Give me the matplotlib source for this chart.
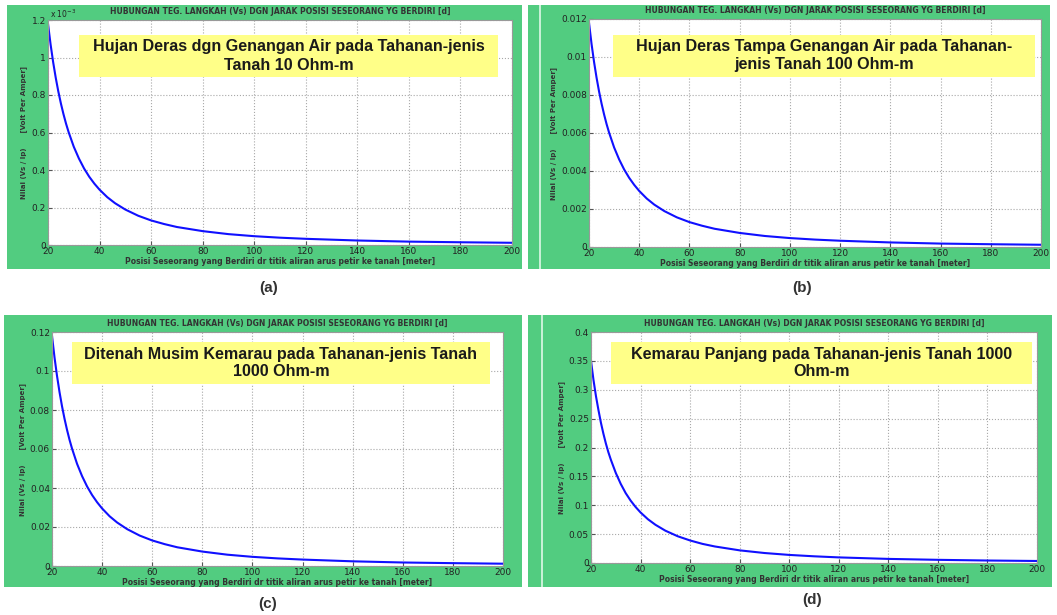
import numpy as np
import matplotlib.pyplot as plt
from matplotlib.patches import Rectangle
from matplotlib.ticker import FuncFormatter

# jarak posisi (meter)
jarak = [20, 21, 22, 23, 24, 25, 26, 27, 28, 30, 32, 34, 36, 38, 40, 43, 46,
         50, 55, 60, 65, 70, 80, 90, 100, 110, 120, 140, 160, 180, 200]

# nilai Vs/Ip (Volt per Amper)
vs_a = [1.18e-3, 1.07e-3, 0.975e-3, 0.892e-3, 0.819e-3, 0.755e-3, 0.698e-3,
        0.647e-3, 0.602e-3, 0.524e-3, 0.461e-3, 0.408e-3, 0.364e-3, 0.327e-3,
        0.295e-3, 0.255e-3, 0.223e-3, 0.189e-3, 0.156e-3, 0.131e-3, 0.112e-3,
        0.096e-3, 0.074e-3, 0.058e-3, 0.047e-3, 0.039e-3, 0.033e-3, 0.024e-3,
        0.018e-3, 0.0146e-3, 0.0118e-3]
vs_b = [0.0118, 0.0107, 0.00975, 0.00892, 0.00819, 0.00755, 0.00698,
        0.00647, 0.00602, 0.00524, 0.00461, 0.00408, 0.00364, 0.00327,
        0.00295, 0.00255, 0.00223, 0.00189, 0.00156, 0.00131, 0.00112,
        0.00096, 0.00074, 0.00058, 0.00047, 0.00039, 0.00033, 0.00024,
        0.00018, 0.000146, 0.000118]
vs_c = [0.118, 0.107, 0.0975, 0.0892, 0.0819, 0.0755, 0.0698, 0.0647,
        0.0602, 0.0524, 0.0461, 0.0408, 0.0364, 0.0327, 0.0295, 0.0255,
        0.0223, 0.0189, 0.0156, 0.0131, 0.0112, 0.0096, 0.0074, 0.0058,
        0.0047, 0.0039, 0.0033, 0.0024, 0.0018, 0.00146, 0.00118]
vs_d = [0.35, 0.317, 0.289, 0.265, 0.243, 0.224, 0.207, 0.192, 0.179, 0.156,
        0.137, 0.121, 0.108, 0.097, 0.0875, 0.0757, 0.0662, 0.056, 0.0463,
        0.039, 0.0331, 0.0286, 0.0219, 0.0173, 0.014, 0.0116, 0.0097, 0.0071,
        0.0055, 0.0043, 0.0035]

judul = "HUBUNGAN TEG. LANGKAH (Vs) DGN JARAK POSISI SESEORANG YG BERDIRI [d]"
xlab = "Posisi Seseorang yang Berdiri dr titik aliran arus petir ke tanah [meter]"
ylab = "Nilai (Vs / Ip)      [Volt Per Amper]"

kotak = ["Hujan Deras dgn Genangan Air pada Tahanan-jenis\nTanah 10 Ohm-m",
         "Hujan Deras Tampa Genangan Air pada Tahanan-\njenis Tanah 100 Ohm-m",
         "Ditenah Musim Kemarau pada Tahanan-jenis Tanah\n1000 Ohm-m",
         "Kemarau Panjang pada Tahanan-jenis Tanah 1000\nOhm-m"]
huruf = ["(a)", "(b)", "(c)", "(d)"]
yticks = [np.arange(0, 1.21e-3, 0.2e-3), np.arange(0, 0.0121, 0.002),
          np.arange(0, 0.121, 0.02), np.arange(0, 0.401, 0.05)]
ylims = [1.2e-3, 0.012, 0.12, 0.4]
data = [vs_a, vs_b, vs_c, vs_d]

W, H = 1057, 615
fig = plt.figure(figsize=(W / 100, H / 100), dpi=100)
fig.patch.set_facecolor("white")

hijau = "#52cc80"
kuning = "#ffff88"

# layout dalam piksel: green bg, axes, yellow box, label
panels = [
    dict(bg=(7, 5, 522, 269), ax=(48, 20, 512, 245), box=(79, 35, 498, 77),
         lab=(269, 288), line=None),
    dict(bg=(528, 5, 1050, 269), ax=(589, 19, 1041, 247), box=(613, 35, 1035, 77),
         lab=(802, 288), line=539),
    dict(bg=(4, 315, 522, 587), ax=(52, 332, 503, 566), box=(72, 342, 490, 384),
         lab=(268, 604), line=None),
    dict(bg=(528, 315, 1052, 587), ax=(591, 332, 1037, 563), box=(611, 342, 1032, 384),
         lab=(812, 600), line=541),
]


def rect(x0, y0, x1, y1, **kw):
    r = Rectangle((x0 / W, 1 - y1 / H), (x1 - x0) / W, (y1 - y0) / H,
                  transform=fig.transFigure, **kw)
    fig.add_artist(r)


for i, p in enumerate(panels):
    x0, y0, x1, y1 = p["bg"]
    rect(x0, y0, x1, y1, facecolor=hijau, edgecolor="none", zorder=-2)
    if p["line"]:
        rect(p["line"], y0, p["line"] + 2, y1, facecolor="#c8f0d6",
             edgecolor="none", zorder=-1)

    a0, b0, a1, b1 = p["ax"]
    ax = fig.add_axes([a0 / W, 1 - b1 / H, (a1 - a0) / W, (b1 - b0) / H])
    ax.plot(jarak, data[i], color="#1010ff", lw=1.5)
    ax.set_xlim(20, 200)
    ax.set_ylim(0, ylims[i])
    ax.set_xticks(range(20, 201, 20))
    ax.set_yticks(yticks[i])
    if i == 0:
        ax.yaxis.set_major_formatter(FuncFormatter(lambda v, pos: "%g" % round(v * 1e3, 6)))
        ax.text(0.005, 1.0, r"x 10$^{-3}$", transform=ax.transAxes, fontsize=5.5,
                ha="left", va="bottom", color="#222")
    else:
        ax.yaxis.set_major_formatter(FuncFormatter(lambda v, pos: "%g" % round(v, 6)))
    ax.grid(True, linestyle=":", color="#a8a8a8", lw=0.8)
    ax.tick_params(direction="in", labelsize=6.5, pad=1.5, length=3,
                   colors="#555555", labelcolor="#222222")
    for s in ax.spines.values():
        s.set_color("#999999")
    ax.set_title(judul, fontsize=5.5, fontweight="bold", color="#333333", pad=4)
    ax.set_xlabel(xlab, fontsize=5.5, fontweight="bold", color="#333333", labelpad=1)
    ax.set_ylabel(ylab, fontsize=5, fontweight="bold", color="#333333", labelpad=3)

    bx0, by0, bx1, by1 = p["box"]
    rect(bx0, by0, bx1, by1, facecolor=kuning, edgecolor="none", zorder=2)
    fig.text((bx0 + bx1) / 2 / W, 1 - (by0 + by1) / 2 / H, kotak[i],
             ha="center", va="center", fontsize=11.6, fontweight="bold",
             family="Liberation Sans", color="#1a1a1a", linespacing=1.25, zorder=3)

    lx, ly = p["lab"]
    fig.text(lx / W, 1 - ly / H, huruf[i], ha="center", va="center",
             fontsize=11, fontweight="bold", family="Liberation Sans", color="#333333")

fig.savefig("out.png", dpi=100)
